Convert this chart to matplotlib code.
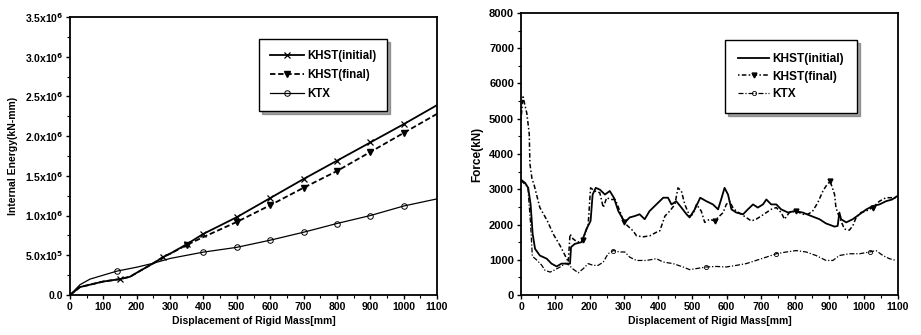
import matplotlib
matplotlib.use("Agg")
import matplotlib.pyplot as plt
import numpy as np
from matplotlib.ticker import MultipleLocator

plt.rcParams['font.family'] = ['Liberation Sans', 'DejaVu Sans']
plt.rcParams['font.weight'] = 'bold'

# ---- Left panel: internal energy ----
e_init_x = [0, 30, 100, 150, 180, 200, 250, 280, 300, 350, 400, 500, 600, 700, 800, 900, 1000, 1100]
e_init_y = [0, 0.10e6, 0.17e6, 0.20e6, 0.23e6, 0.28e6, 0.40e6, 0.48e6, 0.52e6, 0.64e6, 0.77e6, 0.98e6, 1.22e6, 1.46e6, 1.69e6, 1.92e6, 2.15e6, 2.39e6]
e_final_x = [0, 30, 100, 150, 180, 200, 250, 280, 300, 350, 400, 500, 600, 700, 800, 900, 1000, 1100]
e_final_y = [0, 0.10e6, 0.17e6, 0.20e6, 0.23e6, 0.28e6, 0.40e6, 0.48e6, 0.52e6, 0.63e6, 0.73e6, 0.92e6, 1.13e6, 1.35e6, 1.56e6, 1.80e6, 2.04e6, 2.28e6]
e_ktx_x = [0, 30, 60, 100, 140, 200, 250, 300, 400, 500, 600, 700, 800, 900, 1000, 1100]
e_ktx_y = [0, 0.13e6, 0.20e6, 0.25e6, 0.30e6, 0.35e6, 0.40e6, 0.46e6, 0.54e6, 0.60e6, 0.69e6, 0.79e6, 0.90e6, 1.00e6, 1.12e6, 1.21e6]
e_ytick_labels = ['0.0', r'5.0x10$^{5}$', r'1.0x10$^{6}$', r'1.5x10$^{6}$', r'2.0x10$^{6}$',
                  r'2.5x10$^{6}$', r'3.0x10$^{6}$', r'3.5x10$^{6}$']

# ---- Right panel: force ----
f_init_x = [0, 12, 21, 28, 34, 41, 55, 75, 89, 104, 118, 133, 143, 146, 157, 177, 191, 203, 209, 218, 230, 245, 259, 271, 284, 303, 317, 332, 346, 361, 375, 395, 415, 429, 439, 453, 468, 483, 492, 507, 523, 541, 560, 575, 584, 594, 604, 614, 628, 648, 662, 677, 691, 706, 716, 730, 745, 759, 779, 798, 822, 847, 871, 890, 915, 924, 929, 934, 949, 968, 988, 1008, 1026, 1046, 1065, 1083, 1097]
f_init_y = [3270, 3180, 3040, 2570, 1730, 1310, 1120, 1030, 890, 810, 890, 890, 890, 1360, 1450, 1500, 1870, 2100, 2850, 3040, 2990, 2850, 2950, 2760, 2380, 2060, 2200, 2240, 2290, 2150, 2380, 2570, 2760, 2760, 2570, 2660, 2480, 2290, 2200, 2430, 2760, 2660, 2570, 2430, 2710, 3040, 2850, 2430, 2340, 2290, 2430, 2570, 2480, 2570, 2710, 2570, 2570, 2430, 2340, 2380, 2340, 2240, 2150, 2030, 1940, 1960, 2340, 2150, 2060, 2150, 2290, 2430, 2520, 2570, 2660, 2710, 2800]
f_final_x = [0, 6, 17, 24, 26, 32, 38, 55, 77, 94, 114, 131, 138, 143, 152, 165, 180, 196, 203, 215, 230, 240, 250, 262, 275, 290, 300, 327, 337, 356, 376, 395, 405, 420, 434, 449, 458, 468, 478, 492, 502, 512, 526, 536, 550, 565, 575, 590, 599, 609, 618, 628, 643, 657, 672, 686, 701, 716, 730, 745, 759, 769, 783, 803, 822, 837, 851, 866, 881, 890, 902, 915, 919, 929, 944, 958, 968, 978, 992, 1007, 1026, 1046, 1065, 1083, 1097]
f_final_y = [5000, 5620, 5150, 4580, 3720, 3300, 3130, 2480, 2100, 1730, 1400, 1075, 935, 1730, 1590, 1500, 1550, 2000, 3040, 2950, 2900, 2480, 2760, 2710, 2710, 2340, 2060, 1820, 1680, 1650, 1680, 1780, 1820, 2240, 2380, 2570, 3040, 2950, 2570, 2240, 2290, 2570, 2380, 2060, 2150, 2100, 2200, 2340, 2570, 2660, 2480, 2380, 2290, 2200, 2100, 2150, 2240, 2340, 2430, 2480, 2340, 2150, 2340, 2380, 2290, 2290, 2380, 2620, 2950, 3090, 3230, 2850, 2480, 2200, 1870, 1840, 1960, 2200, 2340, 2380, 2480, 2660, 2760, 2760, 2760]
f_ktx_x = [0, 20, 28, 33, 45, 60, 70, 85, 100, 115, 130, 140, 150, 157, 167, 182, 196, 211, 225, 240, 254, 269, 288, 303, 317, 337, 366, 395, 415, 444, 473, 492, 512, 541, 570, 599, 628, 657, 686, 716, 745, 774, 803, 832, 861, 890, 910, 929, 958, 988, 1017, 1036, 1056, 1075, 1095]
f_ktx_y = [3250, 3050, 2000, 1100, 1000, 850, 700, 650, 720, 800, 900, 850, 750, 700, 630, 750, 890, 840, 840, 935, 1170, 1260, 1220, 1220, 1075, 980, 980, 1030, 935, 890, 795, 720, 750, 795, 810, 795, 840, 890, 980, 1075, 1170, 1220, 1260, 1220, 1120, 980, 980, 1120, 1170, 1170, 1220, 1260, 1120, 1030, 980]

xticks = [0, 100, 200, 300, 400, 500, 600, 700, 800, 900, 1000, 1100]
xlabel = 'Displacement of Rigid Mass[mm]'

fig = plt.figure(figsize=(9.21, 3.35), dpi=100)
ax1 = fig.add_axes([0.076, 0.1194, 0.3985, 0.830])
ax2 = fig.add_axes([0.5657, 0.1194, 0.4093, 0.8418])

fs = 7.5

def style(ax, yfs):
    for s in ax.spines.values():
        s.set_linewidth(1.3)
    ax.tick_params(axis='both', which='major', direction='out', length=3, width=1.0, labelsize=fs, pad=2)
    ax.tick_params(axis='y', which='major', labelsize=yfs)
    ax.tick_params(axis='both', which='minor', direction='out', length=2, width=0.8)
    ax.set_xlim(0, 1100)
    ax.set_xticks(xticks)
    ax.xaxis.set_minor_locator(MultipleLocator(50))
    for t in ax.get_xticklabels() + ax.get_yticklabels():
        t.set_fontweight('bold')
    ax.set_xlabel(xlabel, fontsize=fs, fontweight='bold', labelpad=3)

# Left
ax1.plot(e_init_x, e_init_y, color='black', lw=1.3, ls='-', marker='x', ms=4, mew=0.9,
         markevery=[3, 7, 9, 10, 11, 12, 13, 14, 15, 16], label='KHST(initial)')
ax1.plot(e_final_x, e_final_y, color='black', lw=1.3, ls=(0, (3, 1.5)), marker='v', ms=4,
         markevery=[9, 11, 12, 13, 14, 15, 16], label='KHST(final)')
ax1.plot(e_ktx_x, e_ktx_y, color='black', lw=0.9, ls='-', marker='o', ms=4, mfc='none', mew=0.7,
         markevery=[4, 8, 9, 10, 11, 12, 13, 14], label='KTX')
ax1.set_ylim(0, 3.5e6)
ax1.set_yticks(np.arange(0, 3.51e6, 0.5e6))
ax1.set_yticklabels(e_ytick_labels)
ax1.yaxis.set_minor_locator(MultipleLocator(0.25e6))
style(ax1, 7.5)
ax1.set_ylabel('Internal Energy(kN-mm)', fontsize=7.5, fontweight='bold', labelpad=5)
leg1 = ax1.legend(loc='upper left', bbox_to_anchor=(0.50, 0.94), fontsize=8.3, frameon=True,
                  fancybox=False, shadow=True, edgecolor='black', handlelength=2.9,
                  borderpad=0.95, labelspacing=0.6, handletextpad=0.3)
leg1.get_frame().set_linewidth(1.0)

# Right
ax2.plot(f_init_x, f_init_y, color='black', lw=1.3, ls='-', label='KHST(initial)')
ax2.plot(f_final_x, f_final_y, color='black', lw=1.1, ls=(0, (1, 1.5, 3, 1.5)), marker='v', ms=3.5,
         markevery=[16, 26, 45, 63, 70, 80], label='KHST(final)')
ax2.plot(f_ktx_x, f_ktx_y, color='black', lw=0.9, ls=(0, (4, 1.5, 1, 1.5)), marker='o', ms=3, mfc='none', mew=0.6,
         markevery=[21, 33, 40, 50], label='KTX')
ax2.set_ylim(0, 8000)
ax2.set_yticks(np.arange(0, 8001, 1000))
ax2.yaxis.set_minor_locator(MultipleLocator(500))
style(ax2, 8)
ax2.set_ylabel('Force(kN)', fontsize=8.5, fontweight='bold', labelpad=4)
leg2 = ax2.legend(loc='upper left', bbox_to_anchor=(0.525, 0.925), fontsize=8.6, frameon=True,
                  fancybox=False, shadow=True, edgecolor='black', handlelength=2.6,
                  borderpad=1.1, labelspacing=0.45, handletextpad=0.3)
leg2.get_frame().set_linewidth(1.0)

fig.savefig('out.png', dpi=100)
